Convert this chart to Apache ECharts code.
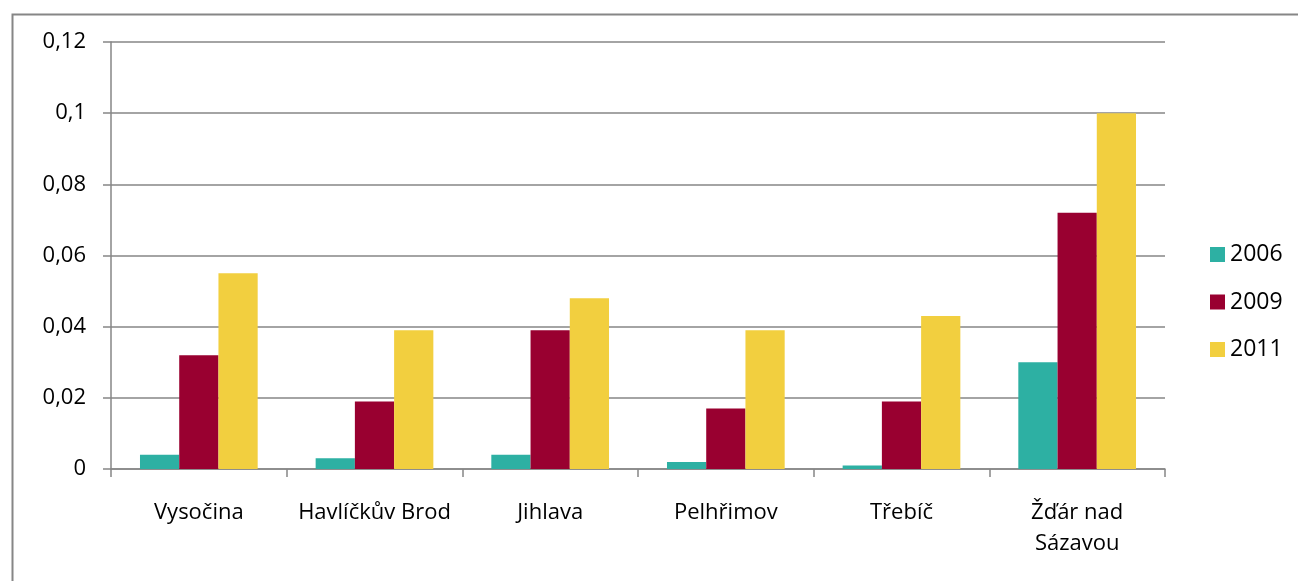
<!DOCTYPE html>
<html>
<head>
<meta charset="utf-8">
<script src="https://cdn.jsdelivr.net/npm/echarts@6/dist/echarts.min.js"></script>
<style>
html,body{margin:0;padding:0;background:#fff;}
#c{width:1298px;height:581px;}
</style>
</head>
<body>
<div id="c"></div>
<script>
const categories = ['Vysočina', 'Havlíčkův Brod', 'Jihlava', 'Pelhřimov', 'Třebíč', 'Žďár nad\nSázavou'];
const seriesNames = ['2006', '2009', '2011'];
const values2006 = [0.004, 0.003, 0.004, 0.002, 0.001, 0.030];
const values2009 = [0.032, 0.019, 0.039, 0.017, 0.019, 0.072];
const values2011 = [0.055, 0.039, 0.048, 0.039, 0.043, 0.100];
const colors = ['#2DB0A3', '#990030', '#F2CF3F'];

const chart = echarts.init(document.getElementById('c'), null, {renderer: 'canvas'});
const font = '"Open Sans", "Noto Sans", sans-serif';
const grey = '#868686';
const dataSets = [values2006, values2009, values2011];

chart.setOption({
  animation: false,
  backgroundColor: '#fff',
  graphic: [{
    type: 'rect', left: 10, top: 12, silent: true,
    shape: {x: 0, y: 0, width: 1300, height: 600},
    style: {fill: 'none', stroke: grey, lineWidth: 2}
  }],
  grid: {left: 111, right: 133, top: 42, bottom: 112, containLabel: false},
  legend: {
    orient: 'vertical', left: 1205, top: 238,
    itemWidth: 15, itemHeight: 15, itemGap: 24.5,
    icon: 'rect',
    textStyle: {fontFamily: font, fontSize: 23, color: '#000'},
    data: seriesNames
  },
  xAxis: {
    type: 'category',
    data: categories,
    axisLine: {lineStyle: {color: grey, width: 1.5}},
    axisTick: {show: true, length: 8, alignWithLabel: false, lineStyle: {color: grey, width: 1.5}},
    axisLabel: {interval: 0, margin: 28, fontFamily: font, fontSize: 22, color: '#000', lineHeight: 31}
  },
  yAxis: {
    type: 'value', min: 0, max: 0.12, interval: 0.02,
    axisLine: {show: true, lineStyle: {color: grey, width: 1.5}},
    axisTick: {show: true, length: 8, inside: false, lineStyle: {color: grey, width: 1.5}},
    splitLine: {show: true, lineStyle: {color: grey, width: 1.5}},
    axisLabel: {
      margin: 25, fontFamily: font, fontSize: 22, color: '#000',
      formatter: v => (Math.round(v * 100) / 100).toString().replace('.', ',')
    }
  },
  series: seriesNames.map((n, i) => ({
    name: n, type: 'bar', data: dataSets[i],
    barGap: '0%', barCategoryGap: '33%',
    itemStyle: {color: colors[i]}
  }))
});
</script>
</body>
</html>
